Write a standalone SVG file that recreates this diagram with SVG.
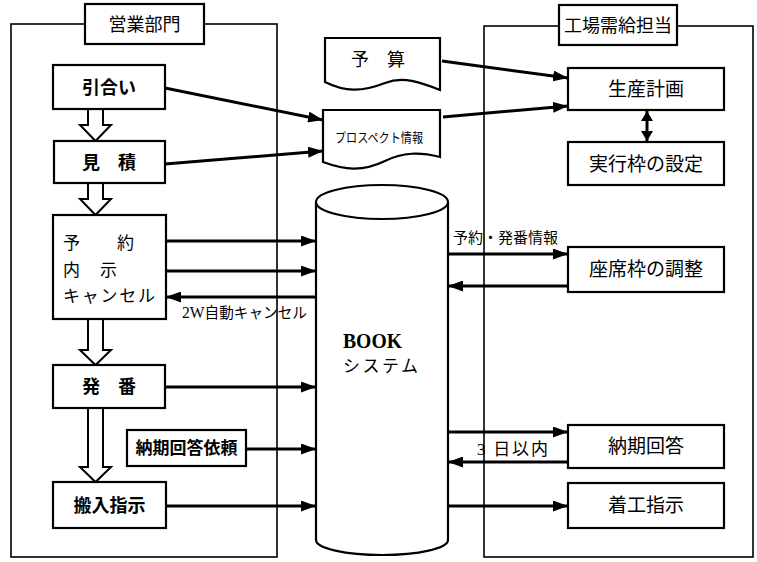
<svg xmlns="http://www.w3.org/2000/svg" width="757" height="562" viewBox="0 0 757 562">
<defs>
<marker id="ah" markerUnits="userSpaceOnUse" markerWidth="15" markerHeight="11" refX="15" refY="5.5" orient="auto"><path d="M0,0 L15,5.5 L0,11 Z" fill="#000"/></marker>
<marker id="ah2" markerUnits="userSpaceOnUse" markerWidth="12" markerHeight="12" refX="10" refY="6" orient="auto-start-reverse"><path d="M0,0 L10,6 L0,12 Z" fill="#000"/></marker>
<style>
.ct{fill:none;stroke:#000;stroke-width:1.6}
.bx{fill:#fff;stroke:#000;stroke-width:2.2}
.ln{fill:none;stroke:#000;stroke-width:3;marker-end:url(#ah)}
.blk{fill:#fff;stroke:#000;stroke-width:2;stroke-linejoin:miter}
text{font-family:"Noto Sans CJK JP","Noto Sans CJK SC",sans-serif;fill:#000;font-size:18px}
.b{font-weight:bold}
.m{text-anchor:middle}
.s{font-size:15px}
.t19{font-size:19px}
.t17{font-size:17px}
</style>
</defs>
<rect width="757" height="562" fill="#fff"/>

<g id="containers">
<rect class="ct" x="11" y="24" width="266" height="533"/>
<rect class="ct" x="484" y="26" width="269" height="531"/>
</g>

<g id="label-eigyo"><rect class="bx" x="85" y="4" width="119" height="40"/><text class="m" x="144.5" y="31">営業部門</text></g>
<g id="label-kojo"><rect class="bx" x="559" y="5" width="118" height="40"/><text class="m" x="618" y="32">工場需給担当</text></g>

<g id="connectors">
<line class="ln" x1="165" y1="88" x2="323" y2="120"/>
<line class="ln" x1="165" y1="164" x2="323" y2="151"/>
<line class="ln" x1="442" y1="61" x2="568" y2="78"/>
<line class="ln" x1="443" y1="117" x2="568" y2="106"/>
<line x1="647" y1="111" x2="647" y2="141" stroke="#000" stroke-width="3" marker-start="url(#ah2)" marker-end="url(#ah2)"/>
<line class="ln" x1="166" y1="241" x2="316" y2="241"/>
<line class="ln" x1="166" y1="271" x2="316" y2="271"/>
<line class="ln" x1="316" y1="297" x2="166" y2="297"/>
<line class="ln" x1="165" y1="387" x2="316" y2="387"/>
<line class="ln" x1="246" y1="449" x2="316" y2="449"/>
<line class="ln" x1="166" y1="506" x2="316" y2="506"/>
<line class="ln" x1="448" y1="254" x2="568" y2="254"/>
<line class="ln" x1="568" y1="286" x2="448" y2="286"/>
<line class="ln" x1="448" y1="432" x2="568" y2="432"/>
<line class="ln" x1="568" y1="462" x2="448" y2="462"/>
<line class="ln" x1="448" y1="506" x2="568" y2="506"/>
<path class="blk" d="M88,109 V125 H80 L95.5,141 L111,125 H103 V109 Z"/>
<path class="blk" d="M88,183 V199 H80 L95.5,215 L111,199 H103 V183 Z"/>
<path class="blk" d="M88,319 V350 H80 L95.5,365 L111,350 H103 V319 Z"/>
<path class="blk" d="M88,408 V467 H80 L95.5,482 L111,467 H103 V408 Z"/>
<text class="s" x="182" y="318" textLength="125" lengthAdjust="spacingAndGlyphs"><tspan style="font-family:'Liberation Serif',serif;font-size:16px">2W</tspan>自動キャンセル</text>
<text class="s" x="453" y="243" textLength="105" lengthAdjust="spacing">予約・発番情報</text>
<text x="477" y="455" style="font-size:17px" textLength="71" lengthAdjust="spacing"><tspan style="font-family:'Liberation Serif',serif">3</tspan> 日以内</text>
</g>

<g id="hikiai"><rect class="bx" x="53" y="65" width="112" height="44"/><text class="b m" x="109" y="94">引合い</text></g>
<g id="mitsumori"><rect class="bx" x="54" y="141" width="111" height="42"/><text class="b m" x="109" y="169" xml:space="preserve">見　積</text></g>
<g id="yoyaku"><rect class="bx" x="53" y="215" width="113" height="104"/>
<text class="t17" x="63" y="249">予</text><text class="t17" x="117" y="249">約</text>
<text class="t17" x="63" y="276">内</text><text class="t17" x="100" y="276">示</text>
<text class="t17" x="63" y="302" textLength="92" lengthAdjust="spacing">キャンセル</text></g>
<g id="hatsuban"><rect class="bx" x="53" y="365" width="112" height="43"/><text class="b m" x="109" y="393" xml:space="preserve">発　番</text></g>
<g id="nouki-irai"><rect class="bx" x="127" y="430" width="119" height="36"/><text class="b m t17" x="186.5" y="454">納期回答依頼</text></g>
<g id="hannyu"><rect class="bx" x="53" y="482" width="113" height="46"/><text class="b m" x="109.5" y="512">搬入指示</text></g>

<g id="yosan"><path class="bx" d="M325,38 H440 V90 C420,82 403,76 385,83 C362,92 345,92 325,82 Z"/><text class="m" x="378" y="66" xml:space="preserve">予　算</text></g>
<g id="prospect"><path class="bx" d="M323,110 H440 V157 C420,152 403,152 385,161 C362,172 345,170 323,162 Z"/><text x="335" y="142" style="font-size:13px" textLength="88" lengthAdjust="spacingAndGlyphs">プロスペクト情報</text></g>

<g id="book">
<path class="bx" d="M316,202 V540 A66,15 0 0 0 448,540 V202"/>
<ellipse class="bx" cx="382" cy="202" rx="66" ry="17"/>
<text x="343" y="348" style="font-family:'Liberation Serif',serif;font-size:21px;font-weight:bold" textLength="59" lengthAdjust="spacingAndGlyphs">BOOK</text>
<text class="t17" x="343" y="372" textLength="75" lengthAdjust="spacing">システム</text>
</g>

<g id="seisan"><rect class="bx" x="568" y="68" width="156" height="42"/><text class="m t19" x="646" y="96">生産計画</text></g>
<g id="jikko"><rect class="bx" x="568" y="142" width="156" height="43"/><text class="m t19" x="646" y="171">実行枠の設定</text></g>
<g id="zaseki"><rect class="bx" x="568" y="247" width="156" height="45"/><text class="m t19" x="646" y="276">座席枠の調整</text></g>
<g id="nouki"><rect class="bx" x="568" y="425" width="156" height="43"/><text class="m t19" x="646" y="453">納期回答</text></g>
<g id="chakko"><rect class="bx" x="568" y="483" width="156" height="45"/><text class="m t19" x="646" y="512">着工指示</text></g>
</svg>
